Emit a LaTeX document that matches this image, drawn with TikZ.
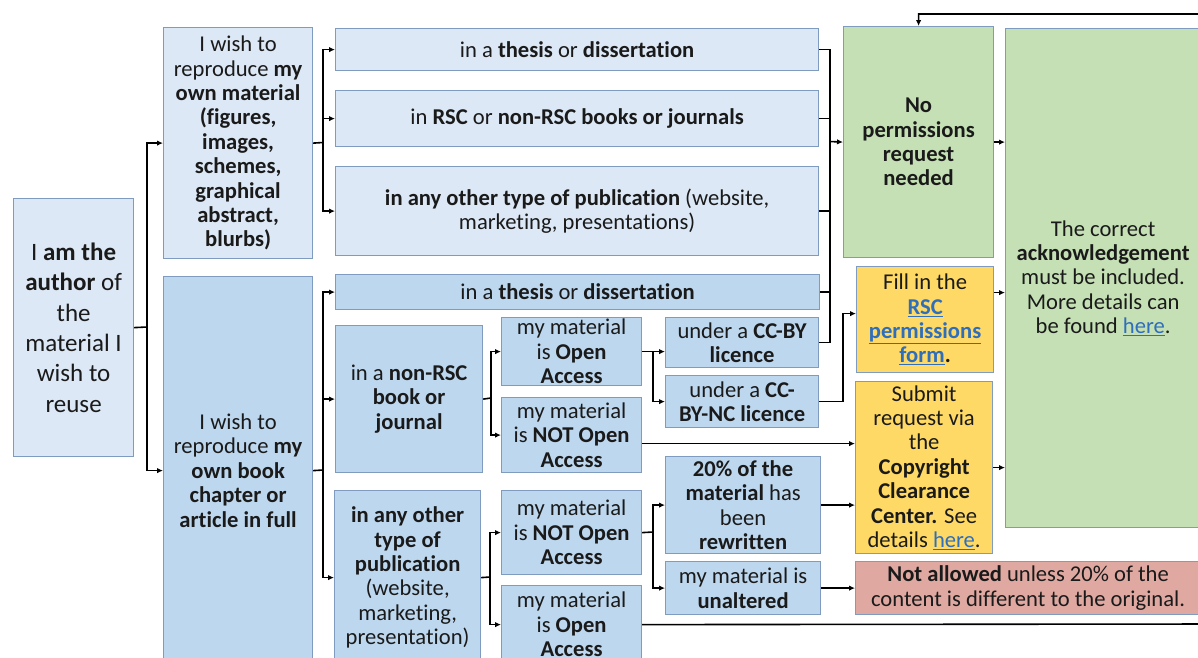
\documentclass[tikz,border=0pt]{standalone}
\usepackage{fontspec}
\setmainfont{Carlito}[RawFeature=-liga]
\usetikzlibrary{arrows.meta,calc}
\definecolor{lbfill}{HTML}{DCE8F5}
\definecolor{dbfill}{HTML}{BDD7EE}
\definecolor{grfill}{HTML}{C5E0B4}
\definecolor{ylfill}{HTML}{FFD966}
\definecolor{rdfill}{HTML}{DFA9A2}
\definecolor{bord}{HTML}{7F9BBF}
\definecolor{lnkc}{HTML}{2F6EBA}
\definecolor{txt}{HTML}{1A1A1A}
\newcommand\lnk[1]{\textcolor{lnkc}{\underline{#1}}}
\begin{document}
\begin{tikzpicture}[x=1pt,y=-1pt,
  box/.style={draw=bord,line width=1.2pt,anchor=north west,align=center,inner sep=0pt,
    text=txt,font=\fontsize{22.6}{24.4}\selectfont},
  lb/.style={box,fill=lbfill},
  db/.style={box,fill=dbfill},
  gr/.style={box,fill=grfill},
  yl/.style={box,fill=ylfill},
  rd/.style={box,fill=rdfill},
  ln/.style={line width=1.6pt,line join=miter},
  ar/.style={ln,-{Latex[length=6pt,width=5.5pt]}}]
\useasboundingbox (0,0) rectangle (1198,657);
\fill[white] (0,0) rectangle (1198,657);
% boxes
\node[lb,minimum width=120pt,minimum height=258pt,font=\fontsize{25}{30.4}\selectfont] (A) at (13,198)
  {I \textbf{am the}\\ \textbf{author} of\\ the\\ material I\\ wish to\\ reuse};
\node[lb,minimum width=149pt,minimum height=231pt] (B) at (163,27)
  {I wish to\\ reproduce \textbf{my}\\ \textbf{own material}\\ \textbf{(figures,}\\ \textbf{images,}\\ \textbf{schemes,}\\ \textbf{graphical}\\ \textbf{abstract,}\\ \textbf{blurbs)}};
\node[db,minimum width=149pt,minimum height=388pt] (C) at (163,276)
  {I wish to\\ reproduce \textbf{my}\\ \textbf{own book}\\ \textbf{chapter or}\\ \textbf{article in full}};
\node[lb,minimum width=483pt,minimum height=42pt] (D1) at (335,28)
  {in a \textbf{thesis} or \textbf{dissertation}};
\node[lb,minimum width=483pt,minimum height=56pt] (D2) at (335,90)
  {in \textbf{RSC} or \textbf{non-RSC books or journals}};
\node[lb,minimum width=483pt,minimum height=89pt] (D3) at (335,166)
  {\textbf{in any other type of publication} (website,\\ marketing, presentations)};
\node[db,minimum width=484pt,minimum height=35pt] (E1) at (335,274)
  {in a \textbf{thesis} or \textbf{dissertation}};
\node[db,minimum width=147pt,minimum height=147pt] (E2) at (335,325)
  {in a \textbf{non-RSC}\\ \textbf{book or}\\ \textbf{journal}};
\node[db,minimum width=146pt,minimum height=174pt] (E3) at (334,490)
  {\textbf{in any other}\\ \textbf{type of}\\ \textbf{publication}\\ (website,\\ marketing,\\ presentation)};
\node[db,minimum width=140pt,minimum height=68pt] (F1) at (501,317)
  {my material\\ is \textbf{Open}\\ \textbf{Access}};
\node[db,minimum width=140pt,minimum height=75pt] (F2) at (501,397)
  {my material\\ is \textbf{NOT Open}\\ \textbf{Access}};
\node[db,minimum width=140pt,minimum height=84pt] (F3) at (501,490)
  {my material\\ is \textbf{NOT Open}\\ \textbf{Access}};
\node[db,minimum width=140pt,minimum height=78pt] (F4) at (501,585)
  {my material\\ is \textbf{Open}\\ \textbf{Access}};
\node[db,minimum width=153pt,minimum height=50pt] (H1) at (665,317)
  {under a \textbf{CC-BY}\\ \textbf{licence}};
\node[db,minimum width=153pt,minimum height=52pt] (H2) at (665,375)
  {under a \textbf{CC-}\\ \textbf{BY-NC licence}};
\node[db,minimum width=155pt,minimum height=97pt] (H3) at (665,456)
  {\textbf{20\% of the}\\ \textbf{material} has\\ been\\ \textbf{rewritten}};
\node[db,minimum width=155pt,minimum height=53pt] (H4) at (665,561)
  {my material is\\ \textbf{unaltered}};
\node[gr,minimum width=150pt,minimum height=231pt] (G1) at (843,26)
  {\textbf{No}\\ \textbf{permissions}\\ \textbf{request}\\ \textbf{needed}};
\node[gr,minimum width=195pt,minimum height=499pt] (G2) at (1005,28)
  {The correct\\ \textbf{acknowledgement}\\ must be included.\\ More details can\\ be found \lnk{here}.};
\node[yl,minimum width=137pt,minimum height=106pt] (Y1) at (856,266)
  {Fill in the\\ \textbf{\lnk{RSC}}\\ \textbf{\lnk{permissions}}\\ \textbf{\lnk{form}.}};
\node[yl,minimum width=137pt,minimum height=172pt] (Y2) at (855,381)
  {Submit\\ request via\\ the\\ \textbf{Copyright}\\ \textbf{Clearance}\\ \textbf{Center.} See\\ details \lnk{here}.};
\node[rd,minimum width=345pt,minimum height=53pt] (R) at (855,561)
  {\textbf{Not allowed} unless 20\% of the\\ content is different to the original.};
% junctions
\coordinate (jA) at (147,327);
\coordinate (jB) at (323,142.5);
\coordinate (jC) at (323,470);
\coordinate (jG) at (830,141.5);
\coordinate (jE2) at (491,398);
\coordinate (jE3) at (490,577);
\coordinate (jF1) at (653,351);
\coordinate (jF3) at (653,532);
\coordinate (loopR) at (1215,624);
\coordinate (loopT) at (1215,14);
% connectors
\draw[ln] (A.east) -- (jA);
\draw[ar] (jA) |- (B.west);
\draw[ar] (jA) |- (C.west);
\draw[ln] (B.east) -- (jB);
\draw[ar] (jB) |- (D1.west);
\draw[ar] (jB) |- (D2.west);
\draw[ar] (jB) |- (D3.west);
\draw[ln] (C.east) -- (jC);
\draw[ar] (jC) |- (E1.west);
\draw[ar] (jC) |- (E2.west);
\draw[ar] (jC) |- (E3.west);
\draw[ln] (D1.east) -| (jG);
\draw[ln] (D2.east) -| (jG);
\draw[ln] (D3.east) -| (jG);
\draw[ln] (E1.east) -| (jG);
\draw[ln] (H1.east) -| (jG);
\draw[ar] (jG) -- (G1.west);
\draw[ar] (G1.east) -- (G1.east -| G2.west);
\draw[ar] ([yshift=27pt]Y1.east) -- ([yshift=27pt]Y1.east -| G2.west);
\draw[ar] (Y2.east) -- (Y2.east -| G2.west);
\draw[ln] (E2.east) -- (jE2);
\draw[ar] (jE2) |- (F1.west);
\draw[ar] (jE2) |- (F2.west);
\draw[ln] (E3.east) -- (jE3);
\draw[ar] (jE3) |- (F3.west);
\draw[ar] (jE3) |- (F4.west);
\draw[ar] (F1.east) -- (F1.east -| H1.west);
\draw[ar] (jF1) |- (H2.west);
\draw[ln] (F3.east) -- (jF3);
\draw[ar] (jF3) |- (H3.west);
\draw[ar] (jF3) |- (H4.west);
\draw[ar] (H2.east) -- ++(24,0) |- ([yshift=6pt]Y1.west);
\draw[ar] ([yshift=-8.5pt]F2.east) -- ([yshift=-8.5pt]F2.east -| Y2.west);
\draw[ar] (H3.east) -- (H3.east -| Y2.west);
\draw[ar] (H4.east) -- (H4.east -| R.west);
\draw[ar] (F4.east) -- (loopR) -- (loopT) -| (G1.north);
\end{tikzpicture}
\end{document}
